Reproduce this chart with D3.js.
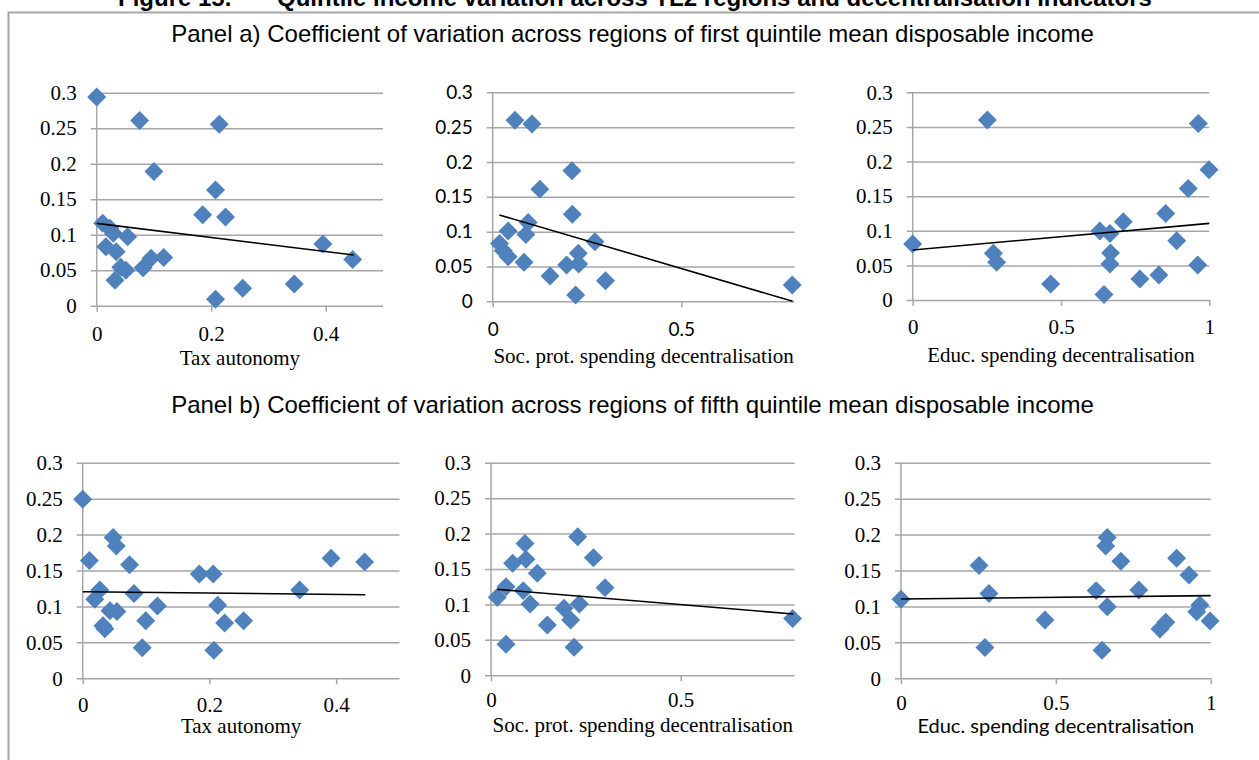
<!DOCTYPE html>
<html lang="en">
<head>
<meta charset="UTF-8">
<title>Figure 15</title>
<style>
  body { margin: 0; background: #fff; }
  svg text { fill: #000; }
  .grid line { stroke: #a6a6a6; stroke-width: 1.5; }
  .xax line { stroke: #a6a6a6; stroke-width: 1.5; }
</style>
</head>
<body>
<svg id="chart" width="1259" height="760"></svg>
<script src="https://d3js.org/d3.v7.min.js"></script>
<script>
// values: [x, coefficient of variation]
var taxQ1 = [[0,0.294],[0.075,0.261],[0.214,0.2555],[0.100,0.189],[0.2075,0.163],[0.185,0.128],
  [0.225,0.125],[0.0105,0.116],[0.023,0.109],[0.029,0.102],[0.054,0.097],[0.016,0.083],
  [0.034,0.076],[0.395,0.087],[0.447,0.065],[0.095,0.067],[0.117,0.068],[0.081,0.0535],
  [0.042,0.054],[0.051,0.050],[0.032,0.036],[0.255,0.0245],[0.345,0.0305],[0.2075,0.009]];
var socQ1 = [[0.059,0.260],[0.104,0.2545],[0.210,0.1875],[0.125,0.161],[0.211,0.125],[0.094,0.113],
  [0.041,0.101],[0.088,0.096],[0.018,0.083],[0.271,0.0856],[0.028,0.0727],[0.041,0.064],
  [0.227,0.069],[0.083,0.056],[0.196,0.052],[0.228,0.0535],[0.152,0.0363],[0.299,0.0296],
  [0.220,0.009],[0.794,0.0234]];
var educQ1 = [[0.2515,0.260],[0.963,0.255],[0.999,0.188],[0.929,0.161],[0.853,0.125],[0.710,0.113],
  [0.631,0.0997],[0.665,0.096],[0,0.081],[0.890,0.0857],[0.272,0.0674],[0.283,0.0544],
  [0.667,0.068],[0.665,0.052],[0.961,0.0506],[0.465,0.023],[0.766,0.0303],[0.830,0.036],
  [0.645,0.008]];
var taxQ5 = [[0,0.249],[0.048,0.196],[0.053,0.184],[0.0105,0.164],[0.074,0.158],[0.184,0.145],
  [0.206,0.145],[0.392,0.167],[0.445,0.162],[0.3425,0.123],[0.027,0.123],[0.019,0.110],
  [0.081,0.118],[0.118,0.1006],[0.213,0.1015],[0.043,0.094],[0.054,0.093],[0.0995,0.080],
  [0.224,0.077],[0.254,0.080],[0.032,0.073],[0.035,0.069],[0.094,0.0426],[0.207,0.039]];
var socQ5 = [[0.2285,0.1956],[0.0896,0.186],[0.270,0.166],[0.0923,0.1636],[0.057,0.158],[0.122,0.144],
  [0.3006,0.1237],[0.0395,0.125],[0.0167,0.110],[0.085,0.1195],[0.103,0.1006],[0.233,0.1006],
  [0.1925,0.0945],[0.210,0.078],[0.1485,0.071],[0.795,0.080],[0.0395,0.0437],[0.219,0.0395]];
var educQ5 = [[0.666,0.196],[0.661,0.184],[0.890,0.167],[0.710,0.163],[0.252,0.157],[0.930,0.1437],
  [0,0.110],[0.284,0.118],[0.630,0.122],[0.768,0.123],[0.666,0.0997],[0.965,0.102],
  [0.955,0.0927],[0.998,0.0797],[0.465,0.081],[0.836,0.0686],[0.855,0.078],[0.271,0.043],
  [0.649,0.039]];

// linear trend lines as drawn: [[xStart, yStart], [xEnd, yEnd]]
var trendTaxQ1 = [[0,0.116],[0.449,0.0714]];
var trendSocQ1 = [[0.0176,0.124],[0.795,0]];
var trendEducQ1 = [[0,0.0722],[1,0.1107]];
var trendTaxQ5 = [[0,0.1205],[0.446,0.1163]];
var trendSocQ5 = [[0.0167,0.1213],[0.797,0.0865]];
var trendEducQ5 = [[0,0.1103],[1,0.115]];

var yTicks = [0, 0.05, 0.1, 0.15, 0.2, 0.25, 0.3];
var taxTicks = [0, 0.2, 0.4];
var socTicks = [0, 0.5];
var educTicks = [0, 0.5, 1];

var SERIF = "'Liberation Serif', 'Times New Roman', serif";
var SANS = "Lato, 'Open Sans', sans-serif";
var ARIAL = "'Liberation Sans', Arial, sans-serif";

var panels = [
  {data: taxQ1, trend: trendTaxQ1, xMax: 0.5, xTicks: taxTicks, left: 96.7, right: 383, top: 92.7, bottom: 305.7,
   label: "Tax autonomy", tickFont: SERIF, labelFont: SERIF, tickDy: 35, labelDy: 59},
  {data: socQ1, trend: trendSocQ1, xMax: 0.8, xTicks: socTicks, left: 492.7, right: 794.5, top: 92.3, bottom: 301.3,
   label: "Soc. prot. spending decentralisation", tickFont: SANS, labelFont: SERIF, tickDy: 35, labelDy: 62},
  {data: educQ1, trend: trendEducQ1, xMax: 1, xTicks: educTicks, left: 912.7, right: 1209.3, top: 92.3, bottom: 300,
   label: "Educ. spending decentralisation", tickFont: SERIF, labelFont: SERIF, tickDy: 34, labelDy: 62},
  {data: taxQ5, trend: trendTaxQ5, xMax: 0.5, xTicks: taxTicks, left: 82.7, right: 399.5, top: 462.7, bottom: 678.3,
   label: "Tax autonomy", tickFont: SERIF, labelFont: SERIF, tickDy: 34, labelDy: 55},
  {data: socQ5, trend: trendSocQ5, xMax: 0.8, xTicks: socTicks, left: 491, right: 794.5, top: 462.7, bottom: 675.3,
   label: "Soc. prot. spending decentralisation", tickFont: SERIF, labelFont: SERIF, tickDy: 32, labelDy: 57},
  {data: educQ5, trend: trendEducQ5, xMax: 1, xTicks: educTicks, left: 901, right: 1210.7, top: 462.7, bottom: 678.3,
   label: "Educ. spending decentralisation", tickFont: SERIF, labelFont: SANS, tickDy: 32, labelDy: 55}
];

var svg = d3.select("#chart");

// frame
svg.append("path")
  .attr("d", "M8.5,760 V12.5 H1259")
  .attr("fill", "none").attr("stroke", "#a6a6a6").attr("stroke-width", 2);

// figure title, cut at the top edge
var head = svg.append("text").attr("y", 6)
  .style("font", "bold 24px " + ARIAL);
head.append("tspan").attr("x", 118).text("Figure 15.");
head.append("tspan").attr("x", 277).text("Quintile income variation across TL2 regions and decentralisation indicators");

svg.append("text").attr("x", 632.5).attr("y", 42).attr("text-anchor", "middle")
  .style("font", "24px " + ARIAL)
  .text("Panel a) Coefficient of variation across regions of first quintile mean disposable income");
svg.append("text").attr("x", 632.5).attr("y", 412.5).attr("text-anchor", "middle")
  .style("font", "24px " + ARIAL)
  .text("Panel b) Coefficient of variation across regions of fifth quintile mean disposable income");

function fmt(v) { return String(+v.toFixed(2)); }

panels.forEach(function(p) {
  var x = d3.scaleLinear().domain([0, p.xMax]).range([p.left, p.right]);
  var y = d3.scaleLinear().domain([0, 0.3]).range([p.bottom, p.top]);
  var g = svg.append("g");

  // gridlines + y labels
  var gy = g.append("g").attr("class", "grid")
    .attr("transform", "translate(" + p.right + ",0)")
    .call(d3.axisLeft(y).tickValues(yTicks).tickFormat(fmt)
      .tickSize(p.right - p.left + 6).tickPadding(14));
  gy.select(".domain").remove();
  gy.selectAll("text").attr("fill", "#000")
    .style("font-family", p.tickFont).style("font-size", p.tickFont === SANS ? "19px" : "21px");

  // y axis line
  g.append("line").attr("x1", x(0)).attr("x2", x(0)).attr("y1", y(0.3)).attr("y2", y(0))
    .attr("stroke", "#a6a6a6").attr("stroke-width", 1.5);

  // x ticks + labels
  var gx = g.append("g").attr("class", "xax")
    .attr("transform", "translate(0," + p.bottom + ")")
    .call(d3.axisBottom(x).tickValues(p.xTicks).tickFormat(fmt).tickSize(6));
  gx.select(".domain").remove();
  gx.selectAll("text").attr("y", p.tickDy).attr("dy", null).attr("fill", "#000")
    .style("font-family", p.tickFont).style("font-size", p.tickFont === SANS ? "19px" : "21px");

  g.append("text").attr("x", (p.left + p.right) / 2).attr("y", p.bottom + p.labelDy)
    .attr("text-anchor", "middle")
    .style("font-family", p.labelFont).style("font-size", p.labelFont === SANS ? "20px" : "21px")
    .text(p.label);

  // markers
  g.selectAll("path.pt").data(p.data).enter().append("path")
    .attr("class", "pt")
    .attr("d", d3.symbol(d3.symbolSquare, 180)())
    .attr("transform", function(d) { return "translate(" + x(d[0]) + "," + y(d[1]) + ") rotate(45)"; })
    .attr("fill", "#4f81bd");

  // trend line
  g.append("path").datum(p.trend)
    .attr("d", d3.line().x(function(d) { return x(d[0]); }).y(function(d) { return y(d[1]); }))
    .attr("fill", "none").attr("stroke", "#000").attr("stroke-width", 1.6);
});
</script>
</body>
</html>
